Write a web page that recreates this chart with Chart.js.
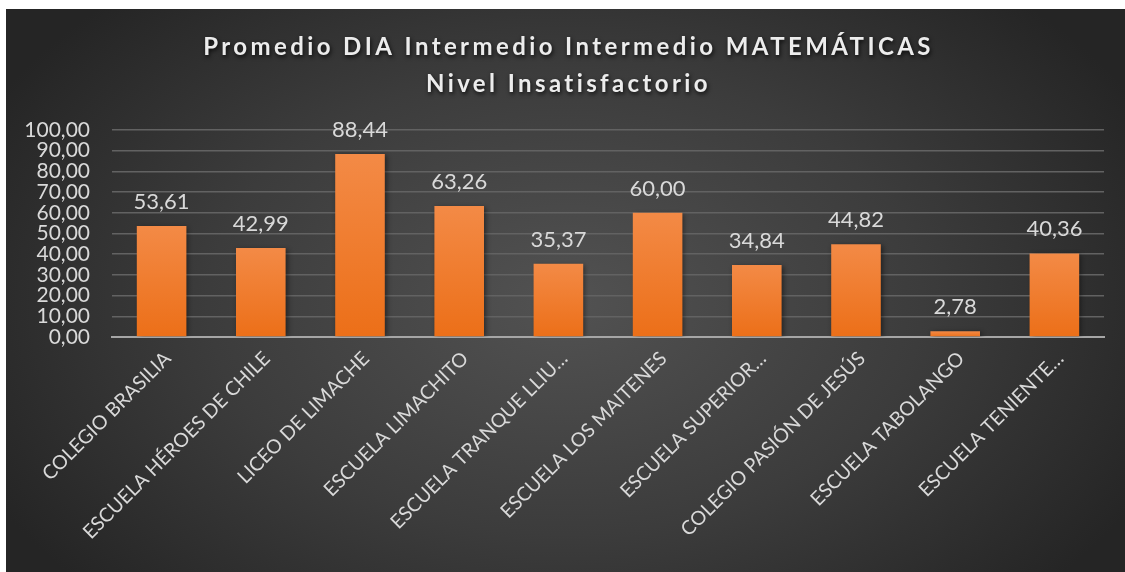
<!DOCTYPE html>
<html>
<head>
<meta charset="utf-8">
<script src="https://cdn.jsdelivr.net/npm/chart.js@4/dist/chart.umd.min.js"></script>
<style>
  html, body { margin: 0; padding: 0; background: #fff; }
  #wrap {
    position: absolute; left: 6px; top: 9px; width: 1119px; height: 563px;
    background: radial-gradient(ellipse 58% 75% at 50% 52%, #525252 0%, #3c3c3c 55%, #252525 100%);
  }
</style>
</head>
<body>
<div id="wrap"><canvas id="myChart" width="1119" height="563"></canvas></div>
<script>
const titleLines = ['Promedio DIA Intermedio Intermedio MATEMÁTICAS', 'Nivel Insatisfactorio'];
const schools = [
  'COLEGIO BRASILIA',
  'ESCUELA HÉROES DE CHILE',
  'LICEO DE LIMACHE',
  'ESCUELA LIMACHITO',
  'ESCUELA TRANQUE LLIU…',
  'ESCUELA LOS MAITENES',
  'ESCUELA SUPERIOR…',
  'COLEGIO PASIÓN DE JESÚS',
  'ESCUELA TABOLANGO',
  'ESCUELA TENIENTE…'
];
const promedios = [53.61, 42.99, 88.44, 63.26, 35.37, 60.00, 34.84, 44.82, 2.78, 40.36];
const yMin = 0;
const yMax = 100;
const yStep = 10;

const textColor = '#d9d9d9';
const fmt = v => v.toFixed(2).replace('.', ',');

// title drawn by hand so it can have letter spacing + shadow like Excel
const titlePlugin = {
  id: 'excelTitle',
  afterDraw(chart) {
    const ctx = chart.ctx;
    ctx.save();
    ctx.font = 'bold 24px Lato';
    ctx.letterSpacing = '3.4px';
    ctx.fillStyle = '#ececec';
    ctx.textAlign = 'center';
    ctx.textBaseline = 'middle';
    ctx.shadowColor = 'rgba(0,0,0,0.8)';
    ctx.shadowBlur = 4;
    ctx.shadowOffsetX = 1;
    ctx.shadowOffsetY = 2;
    titleLines.forEach((line, i) => {
      ctx.fillText(line, chart.width / 2 + 3, 38 + i * 37);
    });
    ctx.restore();
  }
};

const barShadow = {
  id: 'barShadow',
  beforeDatasetsDraw(chart) {
    const ctx = chart.ctx;
    ctx.save();
    ctx.shadowColor = 'rgba(0,0,0,0.45)';
    ctx.shadowBlur = 5;
    ctx.shadowOffsetX = 2;
    ctx.shadowOffsetY = 1;
  },
  afterDatasetsDraw(chart) {
    chart.ctx.restore();
  }
};

const valueLabels = {
  id: 'valueLabels',
  afterDatasetsDraw(chart) {
    const ctx = chart.ctx;
    const meta = chart.getDatasetMeta(0);
    ctx.save();
    ctx.font = '22px Lato';
    ctx.fillStyle = textColor;
    ctx.textAlign = 'center';
    ctx.textBaseline = 'alphabetic';
    meta.data.forEach((bar, i) => {
      ctx.fillText(fmt(promedios[i]), bar.x, bar.y - 17);
    });
    ctx.restore();
  }
};

const ctx = document.getElementById('myChart').getContext('2d');
new Chart(ctx, {
  type: 'bar',
  data: {
    labels: schools,
    datasets: [{
      data: promedios,
      backgroundColor: function(c) {
        const chart = c.chart;
        const ys = chart.scales.y;
        if (!ys || c.raw == null) return '#ee7d2e';
        const top = ys.getPixelForValue(c.raw);
        const base = ys.getPixelForValue(0);
        if (!isFinite(top) || !isFinite(base) || base - top < 1) return '#f0a070';
        const g = chart.ctx.createLinearGradient(0, top, 0, base);
        g.addColorStop(0, '#f38a46');
        g.addColorStop(1, '#ec6f18');
        return g;
      },
      borderWidth: 0,
      barPercentage: 0.5,
      categoryPercentage: 1.0
    }]
  },
  options: {
    responsive: false,
    animation: false,
    layout: { padding: { top: 121, right: 21, left: 0, bottom: 0 } },
    plugins: {
      legend: { display: false },
      tooltip: { enabled: false }
    },
    scales: {
      x: {
        grid: { display: false },
        border: { display: true, color: '#a6a6a6', width: 2 },
        ticks: {
          color: textColor,
          font: { family: 'Lato', size: 19.5 },
          minRotation: 45,
          maxRotation: 45,
          autoSkip: false,
          labelOffset: 6,
          padding: 2
        },
        afterFit(scale) { scale.height = 235; }
      },
      y: {
        min: yMin,
        max: yMax,
        grid: { color: '#626262', lineWidth: 1.5, drawTicks: false },
        border: { display: false },
        ticks: {
          stepSize: yStep,
          autoSkip: false,
          color: textColor,
          font: { family: 'Lato', size: 21, lineHeight: 1 },
          padding: 22,
          callback: v => fmt(v)
        },
        afterFit(scale) { scale.width = 106; }
      }
    }
  },
  plugins: [titlePlugin, barShadow, valueLabels]
});
</script>
</body>
</html>
